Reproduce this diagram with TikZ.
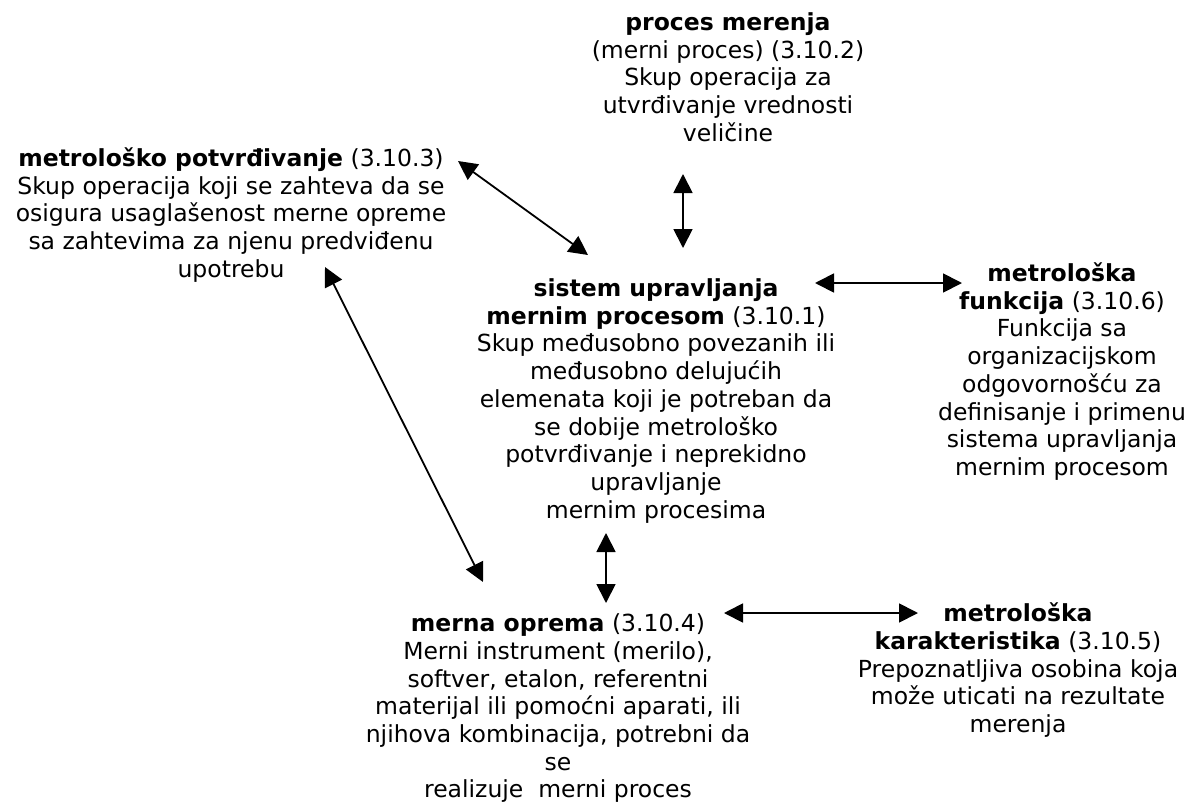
\documentclass[tikz,border=0pt]{standalone}
\usepackage{fontspec}
\setmainfont{DejaVu Sans}
\usetikzlibrary{arrows.meta}
\begin{document}
\begin{tikzpicture}[x=1pt,y=-1pt,
  txt/.style={align=center, inner sep=0pt, anchor=north,
    font=\fontsize{23.5}{27.7}\selectfont},
  link/.style={{Triangle[length=19pt,width=19pt]}-{Triangle[length=19pt,width=19pt]},
    line width=1.8pt}]
\useasboundingbox (0,0) rectangle (1197,809);

% definitions
\node[txt] (pm) at (728,11) {\strut\textbf{proces merenja}\\(merni proces) (3.10.2)\\Skup operacija za\\utvrđivanje vrednosti\\veličine};
\node[txt] (mp) at (231,147) {\strut\textbf{metrološko potvrđivanje} (3.10.3)\\Skup operacija koji se zahteva da se\\osigura usaglašenost merne opreme\\sa zahtevima za njenu predviđenu\\upotrebu};
\node[txt] (su) at (656,277) {\strut\textbf{sistem upravljanja}\\\textbf{mernim procesom} (3.10.1)\\Skup međusobno povezanih ili\\međusobno delujućih\\elemenata koji je potreban da\\se dobije metrološko\\potvrđivanje i neprekidno\\upravljanje\\mernim procesima};
\node[txt] (mf) at (1062,262) {\strut\textbf{metrološka}\\\textbf{funkcija} (3.10.6)\\Funkcija sa\\organizacijskom\\odgovornošću za\\definisanje i primenu\\sistema upravljanja\\mernim procesom};
\node[txt] (mo) at (558,612) {\strut\textbf{merna oprema} (3.10.4)\\Merni instrument (merilo),\\softver, etalon, referentni\\materijal ili pomoćni aparati, ili\\njihova kombinacija, potrebni da\\se\\realizuje\ \ merni proces};
\node[txt] (mk) at (1018,602) {\strut\textbf{metrološka}\\\textbf{karakteristika} (3.10.5)\\Prepoznatljiva osobina koja\\može uticati na rezultate\\merenja};

% arrow end points
\coordinate (pmS) at (683,174);
\coordinate (suN) at (683,248);
\coordinate (mpE) at (458,161);
\coordinate (suW) at (588,255);
\coordinate (suE) at (815,283);
\coordinate (mfW) at (962,283);
\coordinate (mpS) at (325,267);
\coordinate (moN) at (483,582);
\coordinate (suS) at (606,533);
\coordinate (moT) at (606,603);
\coordinate (moE) at (724,613);
\coordinate (mkW) at (918,613);

\draw[link] (pmS) -- (suN);
\draw[link] (mpE) -- (suW);
\draw[link] (suE) -- (mfW);
\draw[link] (mpS) -- (moN);
\draw[link] (suS) -- (moT);
\draw[link] (moE) -- (mkW);
\end{tikzpicture}
\end{document}
